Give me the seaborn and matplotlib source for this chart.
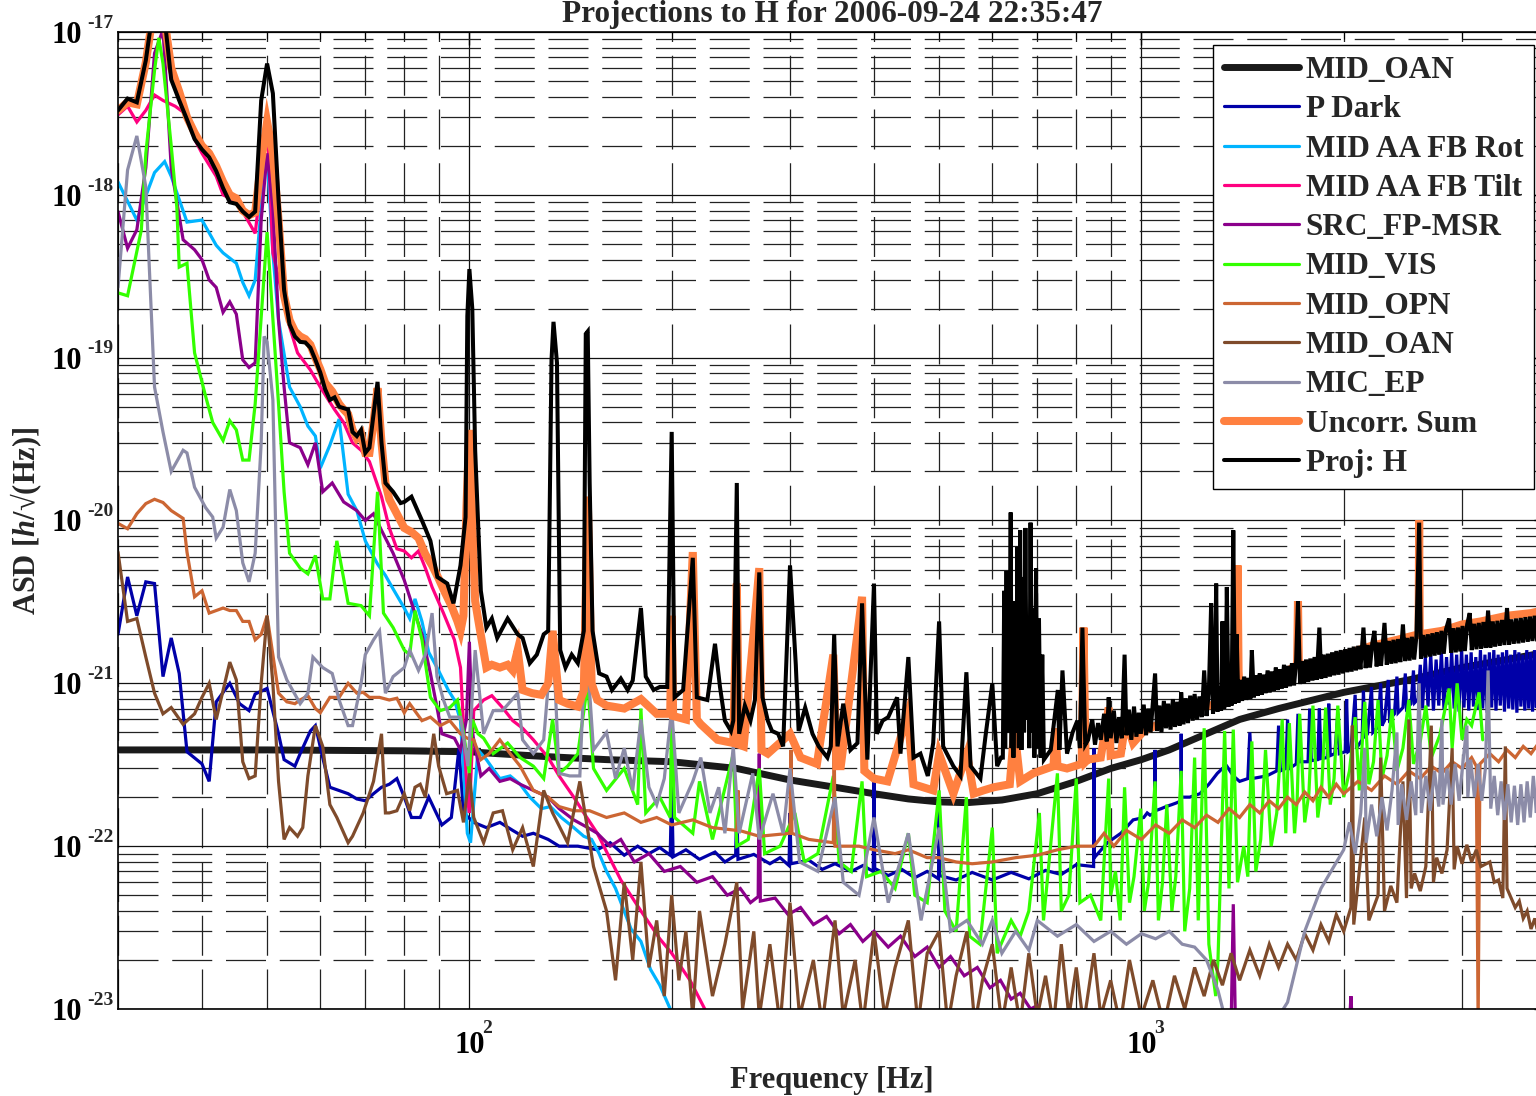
import numpy as np
import pandas as pd
import matplotlib
matplotlib.use("Agg")
import matplotlib.pyplot as plt
import seaborn as sns
from matplotlib.ticker import LogLocator, FixedLocator, FuncFormatter, NullFormatter
from matplotlib.lines import Line2D

# ---------------- data: (frequency [Hz], ASD) ----------------
MID_OAN_THICK = [(30, 3.9e-22), (50, 3.9e-22), (80, 3.85e-22), (100, 3.8e-22), (110, 3.7e-22),
    (130, 3.55e-22), (160, 3.4e-22), (200, 3.3e-22), (250, 3.0e-22), (300, 2.55e-22), (350, 2.3e-22),
    (400, 2.1e-22), (450, 1.95e-22), (500, 1.87e-22), (550, 1.85e-22), (620, 1.92e-22), (700, 2.1e-22),
    (800, 2.5e-22), (900, 3.0e-22), (1000, 3.4e-22), (1100, 3.9e-22), (1250, 4.9e-22), (1400, 6.0e-22),
    (1600, 7.0e-22), (2000, 8.8e-22), (2500, 1.05e-21), (3000, 1.25e-21), (3500, 1.4e-21), (4000, 1.55e-21)]

P_DARK = [(30, 2.0e-21), (31, 4.5e-21), (32, 2.6e-21), (33, 4.2e-21), (34, 4.1e-21), (35, 1.1e-21),
    (36, 1.9e-21), (37, 1.15e-21), (38, 3.8e-22), (40, 3.2e-22), (41, 2.5e-22), (42, 7.7e-22), (44, 1.0e-21),
    (45.5, 7.5e-22), (47, 6.8e-22), (48, 8.6e-22), (50, 9.3e-22), (52, 4.9e-22), (53, 3.4e-22), (55, 3.1e-22),
    (56, 3.7e-22), (58, 5.1e-22), (59, 5.5e-22), (60.5, 3.5e-22), (62, 2.3e-22), (66, 2.1e-22), (68, 1.95e-22),
    (70, 1.9e-22), (72, 2.1e-22), (74, 2.3e-22), (76, 2.4e-22), (78, 2.6e-22), (80, 2.0e-22), (82, 1.5e-22),
    (84.5, 1.5e-22), (87, 2.0e-22), (91, 1.35e-22), (94, 1.5e-22), (95, 2.2e-22), (96.5, 4.0e-22), (98, 1.6e-22),
    (101.5, 1.4e-22), (106, 1.3e-22), (111, 1.4e-22), (116, 1.25e-22), (120, 1.15e-22), (124.5, 1.2e-22),
    (131, 1.1e-22), (136, 1.0e-22), (145, 1.0e-22), (155, 9.5e-23), (162, 1.05e-22), (170, 8.8e-23),
    (178, 1.0e-22), (185, 9.0e-23), (192, 9.8e-23), (199, 8.8e-23), (200, 2.4e-22), (201, 8.6e-23),
    (210, 9.5e-23), (220, 8.3e-23), (232, 9.2e-23), (240, 8.0e-23), (249, 8.8e-23), (250, 1.8e-22),
    (251, 8.3e-23), (265, 8.9e-23), (280, 7.8e-23), (290, 8.5e-23), (299, 7.6e-23), (300, 1.6e-22),
    (301, 7.8e-23), (320, 8.2e-23), (335, 7.2e-23), (350, 7.8e-23), (370, 7.0e-23), (385, 7.6e-23),
    (399, 7.0e-23), (400, 2.6e-22), (401, 7.3e-23), (420, 6.6e-23), (440, 7.2e-23), (460, 6.4e-23),
    (480, 7.0e-23), (499, 6.3e-23), (500, 2.0e-22), (501, 6.6e-23), (530, 6.2e-23), (560, 6.9e-23),
    (600, 6.2e-23), (640, 6.9e-23), (680, 6.3e-23), (720, 7.1e-23), (760, 6.7e-23), (800, 7.7e-23),
    (849, 7.5e-23), (850, 4.0e-22), (851, 8.5e-23), (890, 1.05e-22), (932, 1.2e-22), (972, 1.45e-22),
    (1008, 1.5e-22), (1020, 1.6e-22), (1030, 1.55e-22), (1047, 1.6e-22), (1048, 3.9e-22), (1049, 1.65e-22),
    (1070, 1.7e-22), (1088, 1.75e-22), (1110, 1.8e-22), (1130, 1.85e-22), (1145, 1.9e-22), (1146, 4.9e-22),
    (1147, 2.0e-22), (1180, 2.0e-22), (1222, 2.1e-22), (1260, 2.4e-22), (1297, 2.8e-22), (1320, 3.0e-22),
    (1340, 3.1e-22), (1370, 2.7e-22), (1400, 2.5e-22), (1440, 2.6e-22), (1450, 5.0e-22), (1460, 2.6e-22),
    (1536, 2.7e-22), (1590, 2.9e-22), (1600, 5.5e-22), (1610, 2.9e-22), (1640, 3.0e-22), (1650, 6.0e-22),
    (1660, 3.0e-22), (1700, 3.2e-22), (1710, 6.5e-22), (1720, 3.3e-22), (1770, 3.3e-22), (1780, 7.0e-22),
    (1790, 3.35e-22), (1830, 3.4e-22), (1840, 7.0e-22), (1850, 3.45e-22), (1890, 3.5e-22), (1900, 7.5e-22),
    (1910, 3.6e-22), (1940, 3.7e-22), (1960, 6.5e-22), (1970, 3.7e-22), (2010, 3.8e-22), (2020, 8.0e-22),
    (2030, 3.8e-22), (2050, 3.9e-22), (2080, 8.5e-22), (2090, 4.0e-22), (2130, 4.5e-22), (2140, 9.0e-22),
    (2150, 4.6e-22), (2170, 4.9e-22), (2200, 9.5e-22), (2210, 5.0e-22), (2250, 5.4e-22), (2270, 1.0e-21),
    (2280, 5.5e-22), (2300, 5.9e-22), (2330, 1.05e-21), (2340, 6.0e-22), (2380, 6.5e-22), (2400, 1.1e-21),
    (2410, 6.6e-22), (2450, 7.1e-22), (2470, 1.15e-21), (2480, 7.0e-22), (2520, 7.5e-22), (2540, 1.2e-21),
    (2550, 7.6e-22), (2580, 8.0e-22), (2600, 1.3e-21), (2620, 7.0e-22), (2645, 1.45e-21), (2670, 7.2e-22),
    (2695, 1.5e-21), (2720, 6.8e-22), (2745, 1.4e-21), (2770, 7.3e-22), (2795, 1.55e-21), (2820, 6.9e-22),
    (2845, 1.45e-21), (2870, 7.4e-22), (2895, 1.55e-21), (2920, 7.0e-22), (2945, 1.5e-21), (2970, 6.7e-22),
    (2995, 1.6e-21), (3020, 7.1e-22), (3045, 1.5e-21), (3070, 6.8e-22), (3095, 1.55e-21), (3120, 7.2e-22),
    (3145, 1.45e-21), (3170, 6.9e-22), (3195, 1.6e-21), (3220, 7.0e-22), (3245, 1.5e-21), (3270, 6.6e-22),
    (3295, 1.55e-21), (3320, 7.1e-22), (3345, 1.6e-21), (3370, 6.8e-22), (3395, 1.5e-21), (3420, 7.3e-22),
    (3445, 1.55e-21), (3470, 6.7e-22), (3495, 1.6e-21), (3520, 7.0e-22), (3545, 1.5e-21), (3570, 6.9e-22),
    (3595, 1.6e-21), (3620, 6.6e-22), (3645, 1.55e-21), (3670, 7.2e-22), (3695, 1.5e-21), (3720, 6.8e-22),
    (3745, 1.6e-21), (3770, 7.0e-22), (3795, 1.55e-21), (3820, 6.7e-22), (3845, 1.6e-21), (3870, 7.1e-22),
    (3895, 1.5e-21), (3920, 6.9e-22), (3950, 1.55e-21)]

AA_ROT = [(30, 1.2e-18), (32, 7.0e-19), (34, 1.37e-18), (35.2, 1.6e-18), (36, 1.3e-18), (38, 6.8e-19),
    (40, 7.0e-19), (42, 4.9e-19), (43, 4.4e-19), (45, 3.8e-19), (46, 2.9e-19), (47, 2.4e-19), (48, 3.0e-19),
    (49.5, 1.4e-18), (50, 1.75e-18), (51, 4.4e-19), (52, 1.7e-19), (54, 6.6e-20), (56, 5.0e-20),
    (57.5, 3.8e-20), (59, 3.3e-20), (60, 2.1e-20), (62, 2.9e-20), (64, 4.2e-20), (66, 1.45e-20),
    (68, 1.15e-20), (70, 7.5e-21), (73, 5.4e-21), (75, 4.6e-21), (77, 3.8e-21), (80, 2.9e-21),
    (81.5, 2.5e-21), (83, 3.3e-21), (85, 2.4e-21), (87, 1.55e-21), (89.5, 1.25e-21), (93, 9.1e-22),
    (95, 7.9e-22), (97, 5.9e-22), (99.3, 1.2e-22), (100.4, 1.05e-22), (103, 3.9e-22), (106, 3.4e-22),
    (111, 2.6e-22), (115, 2.7e-22), (119, 2.4e-22), (123, 2.0e-22), (128, 1.7e-22), (132, 1.75e-22),
    (137, 1.5e-22), (143, 1.3e-22), (148, 1.15e-22), (152, 1.1e-22), (156, 9.0e-23), (160, 7.0e-23),
    (165, 5.5e-23), (174, 3.1e-23), (180, 2.6e-23), (186, 1.75e-23), (192, 1.4e-23), (199, 1.0e-23),
    (210, 7e-24)]

AA_TILT = [(30, 3.1e-18), (31, 3.5e-18), (32, 2.8e-18), (33, 3.3e-18), (34, 4.1e-18), (35, 3.8e-18),
    (36.5, 3.5e-18), (38, 3.1e-18), (39, 2.2e-18), (40, 1.8e-18), (42, 1.3e-18), (43, 1.0e-18),
    (45, 9.1e-19), (46.5, 7.3e-19), (48, 5.8e-19), (49, 1.2e-18), (50, 3.0e-18), (51, 4.4e-19),
    (54, 1.55e-19), (55.5, 1.07e-19), (58, 8.4e-20), (60, 6.6e-20), (63, 4.8e-20), (65, 4.0e-20),
    (67, 3.0e-20), (69, 2.7e-20), (71, 2.3e-20), (74, 1.4e-20), (76, 9.0e-21), (78, 6.7e-21), (80, 6.5e-21),
    (82, 5.9e-21), (84, 6.5e-21), (86, 5.1e-21), (88, 3.9e-21), (91.5, 2.7e-21), (95, 1.85e-21),
    (97, 1.25e-21), (99.3, 2.0e-22), (100, 1.6e-22), (101.5, 6.8e-22), (105, 7.9e-22), (108, 8.4e-22),
    (112, 7.1e-22), (116, 5.9e-22), (120, 5.3e-22), (124.5, 4.5e-22), (131, 3.5e-22), (136, 2.7e-22),
    (143, 2.0e-22), (148, 1.6e-22), (155, 1.2e-22), (168, 6.2e-23), (180, 4.0e-23), (192, 2.7e-23),
    (200, 2.2e-23), (213, 1.5e-23), (224, 1.0e-23), (235, 7e-24)]

SRC_FP_MSR = [(30, 7.9e-19), (31, 4.7e-19), (32, 6.1e-19), (33, 1.47e-18), (34, 7.4e-18), (35, 1.03e-17),
    (35.5, 4.0e-18), (36, 1.47e-18), (37.5, 5.3e-19), (39, 4.6e-19), (40, 4.0e-19), (41, 3.0e-19),
    (42, 2.7e-19), (43, 1.9e-19), (44, 2.2e-19), (45, 1.85e-19), (46, 9.7e-20), (47, 8.7e-20), (48, 9.3e-20),
    (49, 7.0e-19), (50, 1.8e-18), (51, 8.4e-19), (52, 1.7e-19), (53, 6.6e-20), (54, 3.0e-20), (56, 2.8e-20),
    (57.5, 2.2e-20), (59, 3.0e-20), (60.5, 1.5e-20), (62.5, 1.7e-20), (65, 1.3e-20), (68, 1.15e-20),
    (70, 1.0e-20), (72, 1.1e-20), (74, 8.7e-21), (77, 6.3e-21), (80, 4.3e-21), (82.5, 2.9e-21),
    (85, 2.0e-21), (87.5, 1.15e-21), (89.5, 7.1e-22), (91, 4.9e-22), (95, 4.6e-22), (97, 3.9e-22),
    (99, 6.0e-22), (100, 1.8e-21), (101, 5.0e-22), (104, 2.7e-22), (107, 3.0e-22), (111, 2.5e-22),
    (115, 2.6e-22), (119, 2.4e-22), (124.5, 2.2e-22), (131, 2.0e-22), (136, 1.7e-22), (143, 1.45e-22),
    (150, 1.3e-22), (155, 1.2e-22), (162, 1.0e-22), (168, 1.1e-22), (176, 8.0e-23), (185, 9.0e-23),
    (195, 7.0e-23), (206, 7.5e-23), (218, 6.0e-23), (230, 6.5e-23), (242, 5.0e-23), (253, 5.5e-23),
    (262, 4.5e-23), (269, 4.9e-23), (270, 3.7e-22), (271, 4.6e-23), (285, 4.8e-23), (298, 3.8e-23),
    (311, 4.2e-23), (325, 3.3e-23), (340, 3.7e-23), (355, 2.9e-23), (369, 3.3e-23), (385, 2.6e-23),
    (400, 3.0e-23), (420, 2.4e-23), (438, 2.8e-23), (460, 2.1e-23), (480, 2.4e-23), (500, 1.8e-23),
    (520, 2.1e-23), (545, 1.6e-23), (570, 1.8e-23), (595, 1.35e-23), (617, 1.5e-23), (640, 1.15e-23),
    (660, 1.25e-23), (684, 1.0e-23), (700, 1.05e-23), (720, 8e-24), (1360, 8e-24), (1370, 4.4e-23),
    (1380, 8e-24), (2040, 8e-24), (2050, 1.2e-23), (2060, 8e-24), (4000, 8e-24)]

MID_VIS = [(30, 2.5e-19), (31, 2.4e-19), (32.5, 6.1e-19), (33, 1.8e-18), (34, 5.8e-18), (34.5, 9.2e-18),
    (35, 6.4e-18), (36, 2.0e-18), (36.7, 8.4e-19), (37, 3.6e-19), (38, 3.8e-19), (39, 1.07e-19),
    (40.5, 5.8e-20), (41.5, 4.0e-20), (43, 3.1e-20), (44, 4.1e-20), (45, 3.6e-20), (46, 2.35e-20),
    (47, 2.35e-20), (48, 5.2e-20), (50, 5.9e-19), (52, 5.2e-20), (53, 1.5e-20), (54, 6.3e-21), (56, 5.1e-21),
    (57.5, 4.7e-21), (59, 6.1e-21), (60.5, 3.3e-21), (62, 3.3e-21), (63.5, 7.5e-21), (66, 3.1e-21),
    (69, 3.0e-21), (71, 2.6e-21), (73, 1.5e-20), (74.5, 2.7e-21), (77, 2.2e-21), (80, 1.6e-21),
    (81.5, 1.5e-21), (83, 2.8e-21), (85, 1.85e-21), (87.5, 8.2e-22), (90.5, 6.8e-22), (93.5, 7.1e-22),
    (96, 7.9e-22), (98, 5.0e-22), (100, 2.8e-22), (101, 6.0e-22), (103, 4.9e-22), (105, 4.6e-22),
    (108.5, 3.7e-22), (114, 4.3e-22), (119, 3.5e-22), (124.5, 3.1e-22), (129, 2.6e-22), (133, 6.0e-22),
    (136, 2.8e-22), (140, 3.1e-22), (145, 3.7e-22), (150, 1.0e-21), (153, 3.0e-22), (160, 2.2e-22),
    (170, 3.0e-22), (178, 1.8e-22), (180, 7.0e-22), (183, 1.6e-22), (192, 2.0e-22), (199, 1.5e-22),
    (200, 8.0e-22), (202, 1.5e-22), (215, 1.2e-22), (220, 2.5e-22), (230, 1.1e-22), (247, 3.7e-22),
    (250, 1.0e-22), (260, 1.1e-22), (270, 3.0e-22), (275, 9e-23), (290, 1.0e-22), (305, 1.6e-22),
    (315, 8e-23), (330, 9e-23), (348, 2.7e-22), (355, 8e-23), (370, 7e-23), (384, 2.5e-22), (390, 6.5e-23),
    (410, 7e-23), (430, 5.5e-23), (450, 1.2e-22), (460, 5e-23), (480, 4.5e-23), (500, 2.2e-22),
    (510, 4e-23), (530, 3.0e-23), (549, 2.0e-22), (555, 2.8e-23), (575, 2.5e-23), (600, 1.3e-22),
    (610, 2.2e-23), (640, 3.5e-23), (660, 2.8e-23), (680, 4e-23), (705, 1.6e-22), (715, 3.5e-23),
    (750, 2.8e-22), (760, 4e-23), (780, 5e-23), (800, 2.6e-22), (810, 4.5e-23), (840, 5e-23),
    (870, 3.5e-23), (894, 2.6e-22), (900, 5e-23), (915, 7e-23), (930, 3.5e-23), (944, 2.3e-22),
    (960, 4.5e-23), (975, 6.5e-23), (998, 1.7e-22), (1010, 4e-23), (1025, 6e-23), (1048, 2.5e-22),
    (1060, 3.5e-23), (1075, 6e-23), (1091, 1.8e-22), (1110, 4.0e-23), (1125, 6.5e-23), (1146, 2.9e-22),
    (1160, 3.0e-23), (1180, 5.5e-23), (1200, 3.5e-22), (1215, 3.5e-23), (1240, 5.3e-22), (1260, 2.5e-23),
    (1290, 1.2e-23), (1300, 2.0e-23), (1330, 5.1e-22), (1350, 5.5e-23), (1370, 5.2e-22), (1390, 6e-23),
    (1420, 1.0e-22), (1440, 6.5e-23), (1460, 4.4e-22), (1480, 7e-23), (1505, 1.1e-22), (1530, 3.9e-22),
    (1560, 1.0e-22), (1590, 1.6e-22), (1620, 6.0e-22), (1640, 1.2e-22), (1660, 5.7e-22), (1690, 1.2e-22),
    (1705, 1.9e-22), (1720, 6.5e-22), (1750, 1.4e-22), (1775, 2.1e-22), (1800, 7.3e-22), (1830, 1.5e-22),
    (1855, 2.3e-22), (1880, 7.1e-22), (1910, 1.8e-22), (1935, 2.6e-22), (1960, 7.3e-22), (2000, 2.0e-22),
    (2040, 2.9e-22), (2080, 6.2e-22), (2110, 2.2e-22), (2150, 7.7e-22), (2180, 2.4e-22), (2215, 3.3e-22),
    (2250, 7.9e-22), (2280, 2.6e-22), (2320, 3.6e-22), (2360, 6.9e-22), (2400, 2.9e-22), (2450, 4.0e-22),
    (2500, 7.9e-22), (2540, 3.2e-22), (2600, 4.4e-22), (2650, 7.3e-22), (2700, 3.5e-22), (2780, 4.8e-22),
    (2870, 9.3e-22), (2900, 4.0e-22), (2950, 1.0e-21), (3000, 4.5e-22), (3050, 6.0e-22), (3100, 5.5e-22),
    (3180, 8.8e-22), (3220, 4.5e-22)]

MID_OPN = [(30, 9.6e-21), (31, 8.9e-21), (32, 1.1e-20), (33, 1.27e-20), (34, 1.35e-20), (35, 1.29e-20),
    (36, 1.15e-20), (37.5, 1.03e-20), (38, 6.4e-21), (39, 3.4e-21), (40, 3.7e-21), (41, 2.7e-21),
    (42, 2.8e-21), (43, 2.9e-21), (44, 2.8e-21), (45, 2.8e-21), (46, 2.4e-21), (47, 2.4e-21), (48, 1.85e-21),
    (49, 2.0e-21), (50, 2.6e-21), (51, 1.5e-21), (52, 8.7e-22), (53.5, 7.7e-22), (55, 7.5e-22), (56, 7.9e-22),
    (57.5, 8.4e-22), (59, 7.0e-22), (60, 6.6e-22), (62, 8.2e-22), (64, 8.2e-22), (66, 1.0e-21), (68, 8.7e-22),
    (69.5, 8.8e-22), (71, 8.2e-22), (73.5, 8.2e-22), (76, 7.9e-22), (78, 8.1e-22), (80, 6.6e-22),
    (81.5, 7.5e-22), (85, 5.9e-22), (87.5, 6.2e-22), (90.5, 5.5e-22), (93.5, 5.9e-22), (97, 4.9e-22),
    (99.3, 4.6e-22), (101.5, 4.5e-22), (104, 3.4e-22), (107, 3.7e-22), (111, 4.5e-22), (115, 3.7e-22),
    (119, 3.1e-22), (124.5, 2.2e-22), (131, 2.0e-22), (136, 1.75e-22), (143, 1.65e-22), (151, 1.65e-22),
    (160, 1.5e-22), (170, 1.6e-22), (180, 1.4e-22), (190, 1.5e-22), (200, 1.35e-22), (215, 1.45e-22),
    (230, 1.3e-22), (250, 1.25e-22), (251, 2.2e-22), (252, 1.25e-22), (270, 1.15e-22), (300, 1.2e-22),
    (301, 3.9e-22), (302, 1.2e-22), (320, 1.1e-22), (348, 1.05e-22), (349, 4.9e-22), (350, 1.0e-22),
    (380, 1.0e-22), (400, 9.5e-23), (430, 9e-23), (450, 9.5e-23), (480, 8.5e-23), (500, 8.5e-23),
    (530, 8e-23), (560, 7.8e-23), (600, 8e-23), (650, 8.5e-23), (700, 8.8e-23), (750, 9.5e-23),
    (800, 1.0e-22), (850, 1.0e-22), (880, 1.2e-22), (910, 1.0e-22), (950, 1.25e-22), (1000, 1.1e-22),
    (1050, 1.35e-22), (1100, 1.2e-22), (1150, 1.45e-22), (1200, 1.3e-22), (1250, 1.55e-22), (1300, 1.4e-22),
    (1350, 1.7e-22), (1400, 1.5e-22), (1450, 1.8e-22), (1500, 1.6e-22), (1550, 1.9e-22), (1600, 1.7e-22),
    (1650, 2.0e-22), (1700, 1.8e-22), (1750, 2.15e-22), (1800, 1.9e-22), (1850, 2.3e-22), (1900, 2.0e-22),
    (1950, 2.4e-22), (2000, 2.1e-22), (2100, 2.5e-22), (2200, 2.2e-22), (2300, 2.7e-22), (2400, 2.4e-22),
    (2500, 2.9e-22), (2600, 2.6e-22), (2700, 3.1e-22), (2800, 2.8e-22), (2900, 3.3e-22), (3000, 3.0e-22),
    (3100, 3.5e-22), (3150, 3.1e-22), (3170, 8e-24), (3190, 3.2e-22), (3300, 3.7e-22), (3400, 3.3e-22),
    (3500, 3.9e-22), (3600, 3.5e-22), (3700, 4.1e-22), (3800, 3.7e-22), (3900, 4.3e-22)]

MID_OAN = [(30, 6.4e-21), (31, 2.4e-21), (32, 2.5e-21), (33, 1.45e-21), (34, 8.7e-22), (35, 6.5e-22),
    (36, 7.1e-22), (37.5, 5.6e-22), (39, 6.5e-22), (40, 8.2e-22), (41, 1.0e-21), (42, 6.0e-22), (44, 1.35e-21),
    (45, 1.05e-21), (46, 3.3e-22), (47, 2.6e-22), (48, 2.7e-22), (49, 1.0e-21), (50, 2.6e-21), (51, 1.0e-21),
    (52, 2.5e-22), (53, 1.1e-22), (54, 1.3e-22), (55.5, 1.15e-22), (56.5, 1.3e-22), (57.5, 2.7e-22),
    (59, 5.5e-22), (60.5, 4.1e-22), (62, 1.8e-22), (63.5, 1.5e-22), (66, 1.05e-22), (67, 1.15e-22),
    (69.5, 1.6e-22), (72, 2.5e-22), (74, 4.9e-22), (75, 1.6e-22), (76, 1.6e-22), (78, 1.65e-22), (80, 2.1e-22),
    (81.5, 1.65e-22), (83, 2.3e-22), (84.5, 2.4e-22), (86, 2.0e-22), (88.5, 4.9e-22), (90, 3.1e-22),
    (92.5, 2.1e-22), (96, 2.2e-22), (98, 1.4e-22), (100, 2.8e-22), (101.5, 1.5e-22), (105, 1.05e-22),
    (108.5, 1.6e-22), (112, 1.65e-22), (116, 9.5e-23), (120, 1.3e-22), (124.5, 7.5e-23), (129, 2.2e-22),
    (133, 1.6e-22), (140, 1.05e-22), (146, 2.5e-22), (153, 7.5e-23), (160, 4e-23), (165, 1.5e-23),
    (170, 6e-23), (175, 2e-23), (180, 8e-23), (185, 1.8e-23), (190, 3.5e-23), (195, 1.2e-23), (200, 5e-23),
    (205, 1.5e-23), (210, 3e-23), (215, 9e-24), (220, 4e-23), (230, 1.2e-23), (240, 2.5e-23), (250, 6e-23),
    (255, 1e-23), (265, 3e-23), (270, 9e-24), (280, 2.5e-23), (290, 8e-24), (300, 4.5e-23), (310, 9e-24),
    (325, 2e-23), (335, 8e-24), (350, 3.5e-23), (360, 9e-24), (375, 2e-23), (385, 8e-24), (400, 3e-23),
    (415, 9e-24), (430, 1.8e-23), (450, 3.5e-23), (465, 8e-24), (480, 2.2e-23), (500, 3e-23), (515, 8e-24),
    (530, 1.6e-23), (550, 3e-23), (565, 8e-24), (580, 1.5e-23), (600, 2.5e-23), (620, 8e-24), (640, 1.8e-23),
    (660, 8e-24), (680, 2.2e-23), (700, 9e-24), (720, 1.6e-23), (740, 8e-24), (760, 2.5e-23), (780, 9e-24),
    (800, 1.8e-23), (820, 8e-24), (850, 2.2e-23), (870, 9e-24), (900, 1.5e-23), (930, 8e-24), (960, 2e-23),
    (1000, 9e-24), (1040, 1.5e-23), (1080, 8e-24), (1120, 1.6e-23), (1160, 1.0e-23), (1200, 1.8e-23),
    (1240, 1.2e-23), (1280, 2.0e-23), (1320, 1.4e-23), (1360, 2.2e-23), (1400, 1.5e-23), (1450, 2.3e-23),
    (1500, 1.6e-23), (1550, 2.5e-23), (1600, 1.8e-23), (1650, 2.5e-23), (1700, 2.0e-23), (1750, 2.9e-23),
    (1800, 2.3e-23), (1850, 3.3e-23), (1900, 2.6e-23), (1950, 3.8e-23), (2000, 3.0e-23), (2050, 4.2e-23),
    (2060, 5.5e-22), (2070, 3.3e-23), (2150, 1.5e-22), (2180, 3.5e-23), (2250, 5.0e-23), (2270, 3.5e-22),
    (2300, 4.0e-23), (2350, 5.7e-23), (2400, 4.5e-23), (2450, 2.5e-22), (2480, 4.8e-23), (2500, 6.0e-22),
    (2520, 5.5e-23), (2550, 6.8e-23), (2600, 5.3e-23), (2650, 7.5e-23), (2700, 5.5e-22), (2720, 6.0e-23),
    (2750, 8.5e-23), (2800, 6.8e-23), (2850, 9.5e-23), (2900, 4.0e-22), (2920, 7.2e-23), (2950, 1.0e-22),
    (3000, 7.8e-23), (3050, 1.02e-22), (3100, 8e-23), (3150, 9.5e-23), (3200, 7.5e-23), (3300, 8e-23),
    (3350, 6e-23), (3400, 6.2e-23), (3450, 4.8e-23), (3480, 4.1e-22), (3500, 5.5e-23), (3600, 4.2e-23),
    (3650, 4.6e-23), (3700, 3.6e-23), (3750, 4.0e-23), (3800, 3.1e-23), (3850, 3.6e-23), (3900, 2.8e-23),
    (3950, 3.2e-23)]

MIC_EP = [(30, 2.7e-19), (31, 1.42e-18), (32, 2.3e-18), (33, 1.12e-18), (33.5, 2.7e-19), (34, 6.6e-20),
    (35, 3.5e-20), (36, 2.0e-20), (37.5, 2.7e-20), (38, 2.6e-20), (39, 1.6e-20), (40.5, 1.2e-20),
    (41.5, 1.05e-20), (42, 7.8e-21), (43, 9.1e-21), (44, 1.55e-20), (45, 1.15e-20), (46, 5.5e-21),
    (47, 4.2e-21), (48, 6.3e-21), (49, 3e-20), (49.5, 1.35e-19), (50, 1.25e-19), (51, 5.5e-20),
    (52, 1.45e-21), (53.5, 1.05e-21), (56, 7.5e-22), (57.5, 8.7e-22), (58.5, 1.45e-21), (60.5, 1.25e-21),
    (62.5, 1.15e-21), (64, 7.9e-22), (66, 5.5e-22), (67, 5.5e-22), (69, 1.0e-21), (70, 1.5e-21),
    (72, 1.85e-21), (73.5, 2.1e-21), (75, 8.7e-22), (77, 1.1e-21), (80, 1.25e-21), (81.5, 1.6e-21),
    (84, 1.2e-21), (86, 1.5e-21), (88, 2.7e-21), (89.5, 1.1e-21), (91.5, 7.9e-22), (93.5, 6.2e-22),
    (97, 6.2e-22), (99.5, 3.1e-22), (102, 1.6e-21), (105, 4.9e-22), (108.5, 6.8e-22), (112, 6.8e-22),
    (118, 8.7e-22), (120, 4.5e-22), (124.5, 3.7e-22), (129, 4.5e-22), (133, 2.1e-21), (136, 2.8e-22),
    (141, 2.7e-22), (146, 2.7e-22), (149, 2.0e-21), (153, 3.9e-22), (160, 5e-22), (165, 2.6e-22),
    (170, 4e-22), (175, 2.2e-22), (180, 6e-22), (185, 2.3e-22), (190, 1.8e-22), (195, 2.6e-22),
    (200, 7e-22), (205, 1.6e-22), (215, 2.5e-22), (221, 3.5e-22), (228, 1.6e-22), (235, 2.3e-22),
    (240, 1.2e-22), (247, 4.1e-22), (252, 1.2e-22), (264, 2.8e-22), (270, 1.1e-22), (283, 2.1e-22),
    (293, 1.2e-22), (300, 3e-22), (310, 8e-23), (330, 7e-23), (350, 2e-22), (360, 6e-23), (380, 5e-23),
    (400, 1.5e-22), (420, 4.5e-23), (450, 1.2e-22), (470, 3.5e-23), (500, 1.3e-22), (520, 3.0e-23),
    (550, 3.5e-23), (580, 2.5e-23), (600, 3.5e-23), (620, 2.2e-23), (650, 3.0e-23), (680, 2.3e-23),
    (700, 3.5e-23), (750, 2.8e-23), (800, 3.3e-23), (850, 2.6e-23), (900, 3.0e-23), (950, 2.5e-23),
    (1000, 2.9e-23), (1050, 2.7e-23), (1100, 3.0e-23), (1150, 2.5e-23), (1200, 2.4e-23), (1250, 2.0e-23),
    (1300, 1.3e-23), (1330, 9e-24), (1600, 9e-24), (1650, 1.1e-23), (1750, 3e-23), (1850, 5.5e-23),
    (2000, 9.5e-23), (2040, 1.4e-22), (2080, 9e-23), (2120, 1.6e-22), (2150, 4.0e-22), (2160, 1.05e-22),
    (2200, 1.8e-22), (2240, 1.15e-22), (2280, 2.0e-22), (2320, 1.25e-22), (2360, 2.2e-22), (2400, 5.0e-22),
    (2410, 1.35e-22), (2440, 2.4e-22), (2480, 1.45e-22), (2520, 2.5e-22), (2560, 1.55e-22), (2590, 1.0e-21),
    (2610, 1.6e-22), (2650, 2.7e-22), (2690, 1.65e-22), (2730, 2.9e-22), (2770, 1.75e-22), (2800, 6.0e-22),
    (2810, 1.8e-22), (2850, 3.0e-22), (2890, 1.8e-22), (2930, 3.2e-22), (2970, 1.9e-22), (3010, 3.3e-22),
    (3050, 5.5e-22), (3060, 2.0e-22), (3090, 3.4e-22), (3130, 2.0e-22), (3170, 3.2e-22), (3210, 1.9e-22),
    (3250, 3.0e-22), (3280, 1.2e-21), (3310, 1.7e-22), (3350, 2.7e-22), (3390, 1.55e-22), (3430, 2.5e-22),
    (3470, 1.45e-22), (3510, 2.4e-22), (3550, 1.4e-22), (3590, 2.35e-22), (3630, 1.35e-22), (3670, 2.4e-22),
    (3710, 1.4e-22), (3750, 2.5e-22), (3790, 1.5e-22), (3830, 2.7e-22), (3870, 1.6e-22), (3910, 2.9e-22),
    (3950, 1.7e-22)]

UNCORR_SUM = [(30, 3.3e-18), (31, 3.7e-18), (32, 3.6e-18), (33, 6.5e-18), (34, 1.5e-17), (35, 1.4e-17),
    (36, 6.0e-18), (37, 4.3e-18), (38, 3.0e-18), (39, 2.4e-18), (40, 2.0e-18), (41, 1.8e-18), (42, 1.5e-18),
    (43, 1.2e-18), (44, 1.0e-18), (45, 9.5e-19), (46, 8.0e-19), (47, 7.5e-19), (48, 7.8e-19), (49, 1.6e-18),
    (50, 2.8e-18), (51, 1.8e-18), (52, 7.0e-19), (53, 2.4e-19), (54, 1.7e-19), (55, 1.45e-19), (56, 1.35e-19),
    (57, 1.3e-19), (58, 1.2e-19), (59, 1.0e-19), (60, 8.5e-20), (61, 7.0e-20), (62.5, 6.2e-20), (64, 5.2e-20),
    (65, 4.8e-20), (66, 4.5e-20), (67, 3.6e-20), (68, 3.2e-20), (69, 3.4e-20), (70, 2.6e-20), (71, 2.6e-20),
    (72, 4.0e-20), (73, 6.5e-20), (74, 3.0e-20), (75, 1.7e-20), (76, 1.35e-20), (78, 1.1e-20), (80, 9.0e-21),
    (82, 8.5e-21), (84, 7.8e-21), (86, 6.2e-21), (88, 5.3e-21), (90, 4.4e-21), (92, 3.6e-21), (94, 3.0e-21),
    (96, 2.4e-21), (97, 2.1e-21), (98, 2.6e-21), (99, 1.2e-20), (100, 3.6e-20), (101, 1.0e-20), (102, 3.2e-21),
    (103, 2.5e-21), (106, 1.25e-21), (108, 1.3e-21), (111, 1.25e-21), (114, 1.3e-21), (116, 1.2e-21),
    (118, 1.6e-21), (120, 9.1e-22), (124, 8.7e-22), (128, 8.5e-22), (131, 1.0e-21), (133, 2.1e-21),
    (136, 7.9e-22), (140, 7.5e-22), (145, 7.2e-22), (148, 9e-22), (150, 1.4e-20), (152, 1.0e-21),
    (155, 7.9e-22), (160, 7.3e-22), (170, 7.0e-22), (180, 8.0e-22), (190, 6.5e-22), (199, 6.5e-22),
    (200, 2.6e-21), (201, 6.3e-22), (210, 6.0e-22), (215, 6.4e-21), (218, 6.0e-22), (221, 5.6e-22),
    (234, 4.5e-22), (247, 4.3e-22), (250, 4.1e-21), (252, 4.2e-22), (256, 4.1e-22), (270, 5.1e-21),
    (272, 3.9e-22), (278, 3.7e-22), (300, 4.9e-22), (311, 3.5e-22), (329, 3.2e-22), (348, 1.5e-21),
    (352, 3.1e-22), (357, 3.1e-22), (384, 3.4e-21), (387, 2.9e-22), (391, 2.8e-22), (400, 2.6e-22),
    (419, 2.5e-22), (449, 6.5e-22), (458, 2.4e-22), (490, 2.2e-22), (500, 3.7e-22), (525, 2.1e-22),
    (550, 3.7e-22), (563, 2.1e-22), (582, 2.2e-22), (603, 2.3e-22), (637, 2.4e-22), (647, 5.3e-22),
    (660, 2.5e-22), (690, 2.8e-22), (740, 3.1e-22), (745, 5.3e-22), (750, 3.1e-22), (775, 3.0e-22),
    (815, 3.2e-22), (820, 2.2e-21), (826, 3.3e-22), (832, 3.4e-22), (870, 3.5e-22), (894, 7.1e-22),
    (900, 3.6e-22), (932, 3.7e-22), (948, 5.9e-22), (972, 4.3e-22), (1008, 5.1e-22), (1050, 5.5e-22),
    (1100, 6.0e-22), (1150, 6.5e-22), (1200, 7.0e-22), (1300, 7.5e-22), (1385, 1.5e-21), (1390, 5.3e-21),
    (1395, 1.2e-21), (1400, 8.5e-22), (1500, 1.0e-21), (1600, 1.1e-21), (1705, 1.3e-21), (1710, 3.2e-21),
    (1715, 1.3e-21), (1800, 1.3e-21), (2000, 1.5e-21), (2200, 1.7e-21), (2400, 1.85e-21), (2585, 2.0e-21),
    (2590, 1.0e-20), (2595, 2.0e-21), (2800, 2.1e-21), (3000, 2.3e-21), (3200, 2.4e-21), (3500, 2.6e-21),
    (3800, 2.7e-21), (3950, 2.8e-21)]

PROJ_H = [(30, 3.3e-18), (31, 3.9e-18), (32, 3.7e-18), (33, 6.7e-18), (34, 1.6e-17), (35, 1.5e-17),
    (36, 5.1e-18), (37, 3.8e-18), (38, 2.9e-18), (39, 2.2e-18), (40, 1.9e-18), (41, 1.7e-18), (42, 1.4e-18),
    (43, 1.1e-18), (44, 9.0e-19), (45, 8.8e-19), (46, 7.9e-19), (47, 7.3e-19), (48, 7.9e-19), (49, 3.8e-18),
    (50, 6.4e-18), (51, 4.2e-18), (52, 9.3e-19), (53, 2.6e-19), (54, 1.6e-19), (55, 1.35e-19), (56, 1.25e-19),
    (57, 1.24e-19), (58, 1.15e-19), (59, 9.7e-20), (60, 8.1e-20), (61, 6.4e-20), (62, 5.5e-20), (63, 5.7e-20),
    (64, 5.0e-20), (66, 4.8e-20), (67, 3.5e-20), (68, 3.3e-20), (69, 3.6e-20), (70, 2.6e-20), (71, 2.8e-20),
    (72, 4.5e-20), (73, 7.1e-20), (74, 3.0e-20), (75, 1.7e-20), (77, 1.5e-20), (79, 1.28e-20), (80, 1.3e-20),
    (82, 1.4e-20), (85, 1.0e-20), (87.5, 7.5e-21), (89.6, 4.5e-21), (92.7, 4.1e-21), (94.7, 3.1e-21),
    (97, 5.3e-21), (98.7, 1.05e-20), (99.3, 1.8e-19), (100, 3.5e-19), (101, 2.0e-19), (102, 2.7e-20),
    (104, 3.7e-21), (106, 2.2e-21), (108, 2.5e-21), (110, 1.9e-21), (114, 2.5e-21), (118, 2.0e-21),
    (120, 1.9e-21), (123, 1.33e-21), (126, 1.5e-21), (129, 2.0e-21), (131, 2.1e-21), (132.5, 9.7e-20),
    (133.4, 1.66e-19), (135, 9.3e-20), (136.5, 1.6e-21), (139, 1.25e-21), (142, 1.5e-21), (145, 1.33e-21),
    (148, 2.1e-21), (149, 1.4e-19), (150, 1.45e-19), (151, 1.7e-20), (152.5, 2.1e-21), (156, 1.15e-21),
    (160, 1.1e-21), (163, 9.1e-22), (168, 1.07e-21), (172, 9.1e-22), (175, 1.04e-21), (180, 2.9e-21),
    (183, 1.1e-21), (188, 9.1e-22), (192, 9.5e-22), (197, 9.5e-22), (200, 3.5e-20), (202, 8.2e-22),
    (208, 9.1e-22), (215, 5.9e-21), (218, 8.2e-22), (226, 7.9e-22), (232, 1.75e-21), (236, 9.5e-22),
    (240, 5.9e-22), (245, 5.1e-22), (247, 5.9e-22), (250, 1.7e-20), (252, 4.9e-22), (257, 7.3e-22),
    (262, 5.9e-22), (266, 7.9e-22), (270, 4.8e-21), (273, 8.2e-22), (278, 5.9e-22), (282, 5.1e-22),
    (288, 4.9e-22), (293, 4.1e-22), (300, 5.3e-21), (306, 1.3e-21), (309, 5.1e-22), (316, 7.1e-22),
    (324, 4.9e-22), (331, 4.1e-22), (341, 3.5e-22), (345, 4.1e-22), (349, 2.0e-21), (353, 4.1e-22),
    (360, 7.5e-22), (369, 3.9e-22), (378, 4.3e-22), (384, 3.1e-21), (391, 3.4e-22), (400, 4.1e-21),
    (404, 4.9e-22), (412, 5.9e-22), (420, 6.2e-22), (433, 8.2e-22), (438, 3.7e-22), (450, 1.45e-21),
    (458, 3.5e-22), (469, 3.7e-22), (481, 2.7e-22), (490, 4.3e-22), (500, 2.4e-21), (507, 4.1e-22),
    (525, 3.1e-22), (538, 2.7e-22), (549, 1.17e-21), (557, 3.1e-22), (576, 2.6e-22), (586, 4.7e-22),
    (600, 1.0e-21), (610, 3.1e-22), (618, 3.5e-22), (622, 3.5e-22), (625, 3.7e-21), (627, 4.0e-22),
    (630, 4.9e-21), (632, 6.0e-22), (634, 3.2e-21), (636, 5.0e-22), (639, 1.12e-20), (641, 4.0e-22),
    (643, 3.2e-21), (645, 3.5e-22), (648, 2.6e-21), (651, 5.0e-22), (654, 6.9e-21), (657, 4.0e-22),
    (660, 8.7e-21), (663, 3.9e-22), (666, 4.5e-21), (669, 5.0e-22), (672, 9.0e-21), (675, 6.0e-22),
    (678, 2.0e-21), (681, 4.0e-22), (684, 9.7e-21), (687, 5.0e-22), (690, 2.9e-21), (693, 3.5e-22),
    (697, 5.1e-21), (700, 4.0e-22), (704, 2.5e-21), (708, 3.5e-22), (712, 1.5e-21), (716, 3.4e-22),
    (733, 3.9e-22), (751, 9.1e-22), (755, 3.9e-22), (763, 1.2e-21), (775, 3.7e-22), (790, 5.0e-22),
    (803, 5.9e-22), (810, 4.0e-22), (817, 2.2e-21), (825, 4.2e-22), (833, 4.5e-22), (845, 6.0e-22),
    (853, 4.2e-22), (862, 5.7e-22),
    (870, 4.5e-22), (880, 6.5e-22), (888, 4.4e-22), (894, 8.2e-22), (900, 4.6e-22), (910, 6.8e-22),
    (918, 4.3e-22), (926, 6.2e-22), (935, 4.6e-22), (944, 1.5e-21), (950, 4.8e-22), (958, 6.9e-22),
    (966, 4.5e-22), (975, 7.2e-22), (983, 4.7e-22), (991, 6.6e-22), (998, 4.9e-22), (1008, 7.4e-22),
    (1016, 4.8e-22), (1024, 7.0e-22), (1032, 5.0e-22), (1040, 7.6e-22), (1048, 1.15e-21), (1055, 5.1e-22),
    (1063, 7.3e-22), (1071, 5.0e-22), (1080, 7.8e-22), (1088, 5.3e-22), (1096, 7.5e-22), (1105, 5.2e-22),
    (1114, 8.0e-22), (1122, 5.4e-22), (1131, 7.7e-22), (1140, 5.5e-22), (1146, 8.8e-22), (1155, 5.6e-22),
    (1164, 8.1e-22), (1173, 5.7e-22), (1182, 8.4e-22), (1192, 5.9e-22), (1200, 8.6e-22), (1210, 6.0e-22),
    (1220, 8.3e-22), (1230, 6.2e-22), (1240, 1.2e-21), (1250, 6.3e-22), (1260, 8.9e-22), (1270, 3.1e-21),
    (1278, 6.5e-22), (1286, 9.2e-22), (1292, 4.1e-21), (1298, 6.7e-22), (1306, 9.5e-22), (1314, 6.8e-22),
    (1320, 2.4e-21), (1328, 7.0e-22), (1335, 9.6e-22), (1340, 3.9e-21), (1348, 7.2e-22), (1356, 1.0e-21),
    (1362, 7.3e-22), (1370, 8.7e-21), (1378, 7.5e-22), (1386, 2.0e-21), (1394, 7.6e-22), (1402, 1.05e-21),
    (1412, 7.8e-22), (1422, 1.1e-21), (1432, 7.9e-22), (1442, 1.08e-21), (1452, 8.0e-22), (1460, 1.6e-21),
    (1470, 8.2e-22), (1480, 1.12e-21), (1490, 8.4e-22), (1500, 1.15e-21), (1510, 8.5e-22), (1520, 1.13e-21),
    (1530, 8.7e-22), (1541, 1.2e-21), (1552, 8.8e-22), (1563, 1.18e-21), (1574, 9.0e-22), (1585, 1.25e-21),
    (1596, 9.1e-22), (1607, 1.22e-21), (1618, 9.3e-22), (1630, 1.3e-21), (1641, 9.4e-22), (1652, 1.28e-21),
    (1663, 9.6e-22), (1675, 1.33e-21), (1687, 9.7e-22), (1699, 1.35e-21), (1710, 3.2e-21), (1722, 9.9e-22),
    (1734, 1.37e-21), (1746, 1.0e-21), (1758, 1.4e-21), (1771, 1.02e-21), (1784, 1.42e-21), (1797, 1.04e-21),
    (1810, 1.45e-21), (1823, 1.05e-21), (1840, 2.2e-21), (1852, 1.07e-21), (1866, 1.5e-21), (1880, 1.08e-21),
    (1894, 1.52e-21), (1908, 1.1e-21), (1922, 1.55e-21), (1936, 1.12e-21), (1950, 1.58e-21), (1965, 1.13e-21),
    (1980, 1.6e-21), (1995, 1.15e-21), (2010, 1.62e-21), (2025, 1.17e-21), (2040, 1.65e-21), (2055, 1.18e-21),
    (2070, 1.68e-21), (2086, 1.2e-21), (2102, 1.7e-21), (2118, 1.22e-21), (2140, 2.2e-21), (2156, 1.24e-21),
    (2172, 1.72e-21), (2188, 1.25e-21), (2205, 1.75e-21), (2222, 2.1e-21), (2239, 1.27e-21), (2256, 1.78e-21),
    (2273, 1.28e-21), (2300, 2.35e-21), (2318, 1.3e-21), (2336, 1.82e-21), (2354, 1.32e-21), (2372, 1.85e-21),
    (2390, 1.33e-21), (2409, 1.87e-21), (2428, 1.35e-21), (2450, 2.3e-21), (2468, 1.37e-21), (2487, 1.9e-21),
    (2506, 1.38e-21), (2526, 1.93e-21), (2546, 1.4e-21), (2566, 1.95e-21), (2590, 9.7e-21), (2606, 1.42e-21),
    (2626, 1.98e-21), (2647, 1.44e-21), (2668, 2.0e-21), (2689, 1.46e-21), (2710, 2.03e-21), (2731, 1.48e-21),
    (2752, 2.06e-21), (2774, 1.5e-21), (2796, 2.1e-21), (2818, 1.52e-21), (2840, 2.15e-21), (2870, 2.5e-21),
    (2890, 1.54e-21), (2913, 2.18e-21), (2936, 1.55e-21), (2959, 2.2e-21), (2982, 1.57e-21), (3005, 2.25e-21),
    (3029, 1.58e-21), (3053, 2.3e-21), (3080, 2.7e-21), (3102, 1.6e-21), (3127, 2.32e-21), (3152, 1.62e-21),
    (3177, 2.35e-21), (3202, 1.63e-21), (3228, 2.38e-21), (3254, 1.65e-21), (3280, 2.8e-21), (3306, 1.66e-21),
    (3333, 2.4e-21), (3360, 1.68e-21), (3387, 2.42e-21), (3414, 1.7e-21), (3441, 2.45e-21), (3469, 1.72e-21),
    (3500, 2.9e-21), (3525, 1.73e-21), (3553, 2.47e-21), (3582, 1.75e-21), (3611, 2.5e-21), (3640, 1.76e-21),
    (3669, 2.52e-21), (3698, 1.78e-21), (3728, 2.55e-21), (3758, 1.8e-21), (3788, 2.57e-21), (3818, 1.82e-21),
    (3848, 2.6e-21), (3879, 1.83e-21), (3910, 2.62e-21), (3950, 1.85e-21)]

LABELS = ["MID_OAN", "P Dark", "MID AA FB Rot", "MID AA FB Tilt", "SRC_FP-MSR", "MID_VIS",
          "MID_OPN", "MID_OAN", "MIC_EP", "Uncorr. Sum", "Proj: H"]
SERIES = [MID_OAN_THICK, P_DARK, AA_ROT, AA_TILT, SRC_FP_MSR, MID_VIS, MID_OPN, MID_OAN, MIC_EP,
          UNCORR_SUM, PROJ_H]
COLORS = ["#1a1a1a", "#0000a8", "#00b4ff", "#ff0080", "#8b008b", "#33ff00", "#cc6633", "#7f4b2b",
          "#8c8ca8", "#ff8040", "#000000"]
WIDTHS = [5.0, 2.3, 2.3, 2.3, 2.3, 2.3, 2.3, 2.3, 2.3, 5.8, 2.9]
TICK_EXP_Y = [-23, -22, -21, -20, -19, -18, -17]
TICK_EXP_X = [2, 3]

# ---------------- style ----------------
sns.set_style("white")
plt.rcParams["font.family"] = ["Liberation Serif", "DejaVu Serif"]
plt.rcParams["font.weight"] = "bold"
plt.rcParams["mathtext.fontset"] = "custom"
plt.rcParams["mathtext.rm"] = "Liberation Serif:bold"
plt.rcParams["mathtext.it"] = "Liberation Serif:italic:bold"
plt.rcParams["mathtext.bf"] = "Liberation Serif:bold"

W, H = 1536, 1096
fig = plt.figure(figsize=(W / 100, H / 100), dpi=100)
ax = fig.add_axes([118 / W, (H - 1009) / H, 1428 / W, 977 / H])
ax.set_xscale("log")
ax.set_yscale("log")

for lab, ser, col, lw in zip(LABELS, SERIES, COLORS, WIDTHS):
    df = pd.DataFrame(ser, columns=["freq", "asd"])
    sns.lineplot(data=df, x="freq", y="asd", ax=ax, color=col, linewidth=lw,
                 estimator=None, sort=False, legend=False, solid_joinstyle="miter")

ax.set_xlim(30, 4000)
ax.set_ylim(1e-23, 1e-17)

# ticks / grid (MATLAB style)
ax.xaxis.set_major_locator(FixedLocator([100, 1000]))
ax.xaxis.set_minor_locator(LogLocator(base=10, subs=np.arange(2, 10), numticks=30))
ax.yaxis.set_major_locator(FixedLocator([10.0 ** e for e in TICK_EXP_Y]))
ax.yaxis.set_minor_locator(LogLocator(base=10, subs=np.arange(2, 10), numticks=30))
ax.xaxis.set_minor_formatter(NullFormatter())
ax.yaxis.set_minor_formatter(NullFormatter())
ax.xaxis.set_major_formatter(FuncFormatter(lambda v, p: "10"))
ax.yaxis.set_major_formatter(FuncFormatter(lambda v, p: "10"))
ax.tick_params(which="both", direction="in", top=True, right=True, colors="black")
ax.tick_params(which="major", length=9, width=1.0)
ax.tick_params(which="minor", length=5, width=0.8)
ax.tick_params(axis="x", which="major", labelsize=22, pad=16)
ax.tick_params(axis="y", which="major", labelsize=22, pad=26)
ax.grid(which="major", color="#111111", linewidth=0.9, linestyle="-")
ax.grid(which="minor", color="#222222", linewidth=0.9, linestyle=(0, (32, 11)))
for sp in ax.spines.values():
    sp.set_color("black")
    sp.set_linewidth(1.2)

# exponents of the "10" tick labels
for e in TICK_EXP_Y:
    ax.annotate(str(e), xy=(0, 10.0 ** e), xycoords=ax.get_yaxis_transform(), xytext=(-22.5, 3),
                textcoords="offset points", ha="left", va="baseline", fontsize=14, fontweight="bold",
                annotation_clip=False)
for e in TICK_EXP_X:
    ax.annotate(str(e), xy=(10.0 ** e, 0), xycoords=ax.get_xaxis_transform(), xytext=(9.5, -17.5),
                textcoords="offset points", ha="left", va="baseline", fontsize=14, fontweight="bold",
                annotation_clip=False)

ax.set_xlabel("Frequency [Hz]", fontsize=22, fontweight="bold")
ax.xaxis.set_label_coords(0.5, -0.058)
ax.set_ylabel("ASD [$h$/\u221a(Hz)]", fontsize=22, fontweight="bold")
ax.yaxis.set_label_coords(-0.052, 0.5)
ax.set_title("Projections to H for 2006-09-24 22:35:47", fontsize=22.5, fontweight="bold", pad=7)

handles = [Line2D([], [], color=c, linewidth=lw) for c, lw in zip(COLORS, WIDTHS)]
leg = ax.legend(handles, LABELS, loc="upper right", bbox_to_anchor=(1534 / W, 1 - 45 / H),
                bbox_transform=fig.transFigure, frameon=True, fancybox=False, framealpha=1,
                edgecolor="black", fontsize=22.5, handlelength=2.4, handletextpad=0.2,
                labelspacing=0.33, borderpad=0.35, borderaxespad=0)
leg.get_frame().set_linewidth(1.0)

fig.savefig("out.png", dpi=100)
